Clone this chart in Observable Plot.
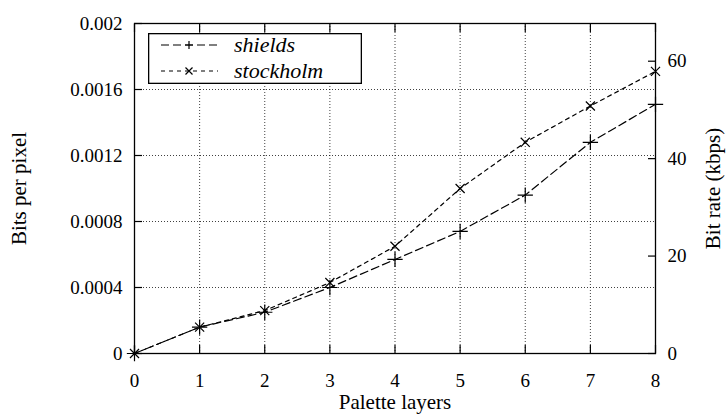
<!DOCTYPE html>
<html><head><meta charset="utf-8">
<script src="https://cdn.jsdelivr.net/npm/d3@7"></script>
<script src="https://cdn.jsdelivr.net/npm/@observablehq/plot@0.6"></script>
<style>
body{margin:0;background:#fff;}
#wrap{position:relative;width:727px;height:416px;}
#wrap svg, #wrap svg text{font-family:"Liberation Serif", serif !important;}
#wrap g[aria-label$="axis label"]{font-size:21px;}
#legend{position:absolute;left:148px;top:33px;}
</style>
</head><body>
<div id="wrap"><div id="legend"></div></div>
<script>
const layers = [0, 1, 2, 3, 4, 5, 6, 7, 8];
const shields = [0, 0.00016, 0.00025, 0.00040, 0.00057, 0.00074, 0.00096, 0.00128, 0.00151];
const stockholm = [0, 0.00016, 0.00026, 0.00043, 0.00065, 0.00100, 0.00128, 0.00150, 0.00171];
const xTicks = [0, 1, 2, 3, 4, 5, 6, 7, 8];
const bppTicks = [0, 0.0004, 0.0008, 0.0012, 0.0016, 0.002];
const kbpsTicks = [0, 20, 40, 60];
const kbpsPerBpp = 33870;
const seriesNames = ["shields", "stockholm"];

const FONT = '"Liberation Serif", serif';
const rows = (vals, name) => layers.map((x, i) => ({x, y: vals[i], name}));
const dShields = rows(shields, seriesNames[0]);
const dStock = rows(stockholm, seriesNames[1]);

const gridStyle = {stroke: "#000", strokeOpacity: 0.75, strokeDasharray: "1,2", strokeWidth: 1};

const chart = Plot.plot({
  width: 727, height: 416,
  marginLeft: 134, marginRight: 72, marginTop: 23, marginBottom: 63,
  style: {fontFamily: FONT, fontSize: "19px", background: "#fff", color: "#000", overflow: "visible"},
  x: {domain: [0, 8]},
  y: {domain: [0, 0.002]},
  marks: [
    Plot.gridX(xTicks.slice(1, -1), gridStyle),
    Plot.gridY(bppTicks.slice(1, -1), gridStyle),
    Plot.axisX(xTicks, {anchor: "bottom", tickSize: -8, tickPadding: 28, strokeWidth: 1.2, fontFamily: FONT,
      label: "Palette layers", labelAnchor: "center", labelOffset: 55, labelArrow: "none", tickFormat: d => String(d)}),
    Plot.axisX(xTicks, {anchor: "top", tickSize: -8, strokeWidth: 1.2, tickFormat: () => "", label: null}),
    Plot.axisY(bppTicks, {anchor: "left", tickSize: -8, tickPadding: 20, strokeWidth: 1.2, fontFamily: FONT,
      label: "Bits per pixel", labelAnchor: "center", labelOffset: 123, labelArrow: "none",
      tickFormat: d => d === 0 ? "0" : String(+d.toFixed(4))}),
    Plot.axisY(kbpsTicks, {anchor: "right", y: d => d / kbpsPerBpp, tickSize: -8, tickPadding: 20, strokeWidth: 1.2, fontFamily: FONT,
      label: "Bit rate (kbps)", labelAnchor: "center", labelOffset: 64, labelArrow: "none", tickFormat: d => String(d)}),
    Plot.line(dShields, {x: "x", y: "y", stroke: "#000", strokeWidth: 1.2, strokeDasharray: "8,4"}),
    Plot.line(dStock, {x: "x", y: "y", stroke: "#000", strokeWidth: 1.2, strokeDasharray: "4,4"}),
    Plot.dot(dShields, {x: "x", y: "y", symbol: "plus", r: 5, stroke: "#000", strokeWidth: 1.2}),
    Plot.dot(dStock, {x: "x", y: "y", symbol: "times", r: 4.2, stroke: "#000", strokeWidth: 1.2}),
    Plot.frame({stroke: "#000", strokeWidth: 1.3})
  ]
});
chart.style.fontFamily = FONT;
document.getElementById("wrap").prepend(chart);

// Legend (inside plot, top-left)
const ns = "http://www.w3.org/2000/svg";
const lg = document.createElementNS(ns, "svg");
lg.setAttribute("width", 214); lg.setAttribute("height", 51);
lg.style.fontFamily = FONT;
lg.innerHTML = `
<rect x="0.65" y="0.65" width="212.7" height="49.7" fill="#fff" stroke="#000" stroke-width="1.3"/>
<line x1="13" y1="12" x2="70" y2="12" stroke="#000" stroke-width="1.2" stroke-dasharray="8,4"/>
<path d="M37,12H45M41,8V16" stroke="#000" stroke-width="1.2"/>
<text x="86" y="12" dy="0.33em" font-style="italic" font-size="22">${seriesNames[0]}</text>
<line x1="13" y1="38" x2="70" y2="38" stroke="#000" stroke-width="1.2" stroke-dasharray="4,4"/>
<path d="M37.5,34.5L44.5,41.5M37.5,41.5L44.5,34.5" stroke="#000" stroke-width="1.2"/>
<text x="86" y="38" dy="0.33em" font-style="italic" font-size="22">${seriesNames[1]}</text>`;
document.getElementById("legend").appendChild(lg);
</script>
</body></html>
